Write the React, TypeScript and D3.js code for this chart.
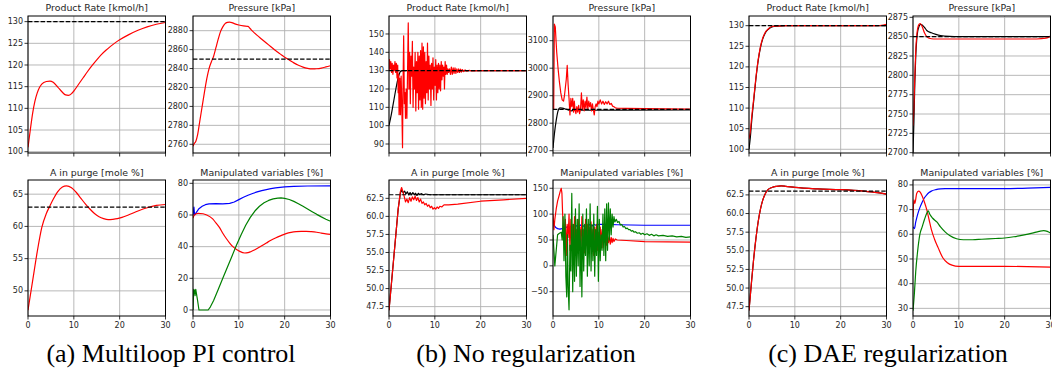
import React from "react";
import * as d3 from "d3";

type Pt = [number, number];

const timeTicks = [0, 10, 20, 30];
const captions = ["(a) Multiloop PI control", "(b) No regularization", "(c) DAE regularization"];
const titles = ["Product Rate [kmol/h]", "Pressure [kPa]", "A in purge [mole %]", "Manipulated variables [%]"];
const setpoints = [130, 2850, 63];

// ---- (a) multiloop PI control
const piRate: Pt[] = [[0,101],[0.5,105],[1,108.8],[1.5,111.6],[2,113.5],[2.5,114.8],[3,115.6],[4,116.2],[4.8,116.3],[5.5,116],[6.5,114.9],[7.5,113.7],[8.2,113.1],[8.8,113],[9.5,113.4],[10,114],[11,115.5],[12,117],[13,118.5],[14,119.9],[15,121.2],[16,122.4],[17,123.4],[18,124.3],[19,125.1],[20,125.8],[22,127],[24,128],[26,128.8],[28,129.4],[30,129.8]];
const piPressure: Pt[] = [[0,2758],[0.3,2761],[0.6,2763],[1,2770],[1.5,2785],[2,2800],[2.5,2815],[3,2829],[3.5,2840],[4,2847],[4.5,2853],[5,2862],[5.5,2871],[6,2879],[6.5,2884],[7,2887.5],[7.5,2888.7],[8,2889],[8.5,2888.5],[9,2887.5],[10,2886],[11,2885],[12,2884.5],[12.5,2882],[13,2879.5],[14,2875],[15,2871],[16,2867],[17,2863],[18,2859],[19,2855.5],[20,2852],[21,2849],[22,2846],[23,2843.5],[24,2841.5],[25,2840.2],[26,2839.6],[27,2839.8],[28,2840.5],[29,2841.7],[30,2843]];
const piPurge: Pt[] = [[0,47],[1,51.5],[2,56],[3,59.8],[4,62],[4.8,63.2],[5.5,64.2],[6.5,65.4],[7.5,66.1],[8.4,66.3],[9.5,66],[10.5,65.3],[11.5,64.4],[12.5,63.5],[13.5,62.7],[14.5,62],[15.5,61.5],[16.5,61.2],[17.5,61.05],[18.5,61.1],[19.5,61.2],[20.5,61.4],[22,61.8],[24,62.4],[26,62.9],[28,63.25],[30,63.4]];
const piMvBlue: Pt[] = [[0,60],[0.2,65],[0.35,60],[0.7,61.5],[1.3,64],[2,65.5],[2.7,66.5],[3.5,67],[5,67.2],[6.5,67],[8,67.3],[9,68.2],[10,69.7],[11,71.2],[12,72.5],[13,73.6],[14,74.6],[15,75.4],[16,76],[17,76.6],[18,77.1],[19,77.5],[20,77.8],[22,78.1],[25,78.3],[30,78.4]];
const piMvRed: Pt[] = [[0,58],[0.3,60],[1.1,61],[2.2,60.8],[3,60],[4.3,57.5],[5,55],[5.8,52],[6.5,48.5],[7.3,45],[8,42.3],[8.7,40],[9.5,38.2],[10.2,37],[11.3,36],[12,36.2],[12.6,36.8],[13.5,38],[14.8,40.2],[16,42.3],[17,44],[18,45.5],[19.2,47],[20.3,48.2],[21.4,49],[22.5,49.5],[23.6,49.7],[24.7,49.7],[25.8,49.5],[27,49.1],[28,48.6],[29,48.1],[30,47.8]];
const piMvGreen: Pt[] = [[0,0],[0.15,13],[0.3,12.5],[0.45,9],[0.6,13],[1,6],[1.3,0],[2,0],[3.3,0],[3.8,2],[4.5,6],[5.5,13],[6.5,20],[7.5,27],[8.5,34],[9.5,41],[10.5,47.5],[11.5,53.5],[12.5,58.5],[13.5,62.5],[14.5,65.5],[15.5,67.7],[16.5,69.2],[17.5,70.2],[18.5,70.7],[19.2,70.8],[20,70.5],[21,69.8],[22,68.6],[23,67.1],[24,65.5],[25,63.8],[26,62.1],[27,60.4],[28,58.8],[29,57.3],[30,56]];

// ---- (b) no regularization
const noRegRateRef: Pt[] = [[0,100],[0.5,106],[1,113],[1.5,120],[2,126],[2.5,129.5],[3,130],[30,130]];
const noRegRate: Pt[] = [[0,130],[0.1,136],[0.25,131],[0.4,135],[0.55,129],[0.7,134],[0.85,128],[1,133],[1.15,130],[1.3,135],[1.45,129],[1.6,134],[1.75,126],[1.9,133],[2,118],[2.1,128],[2.2,106],[2.35,126],[2.5,106],[2.65,127],[2.8,110],[2.95,88],[3.05,120],[3.2,149],[3.35,112],[3.5,118],[3.6,104],[3.75,120],[3.9,104],[4.05,130],[4.2,156],[4.35,120],[4.5,140],[4.65,112],[4.8,138],[4.95,127],[5.1,146],[5.25,110],[5.4,132],[5.55,120],[5.7,140],[5.85,108],[6,135],[6.15,118],[6.3,140],[6.45,109],[6.6,138],[6.75,114],[6.9,141],[7.05,110],[7.2,145],[7.35,109],[7.5,143],[7.65,115],[7.8,140],[7.95,112],[8.1,135],[8.25,118],[8.4,145],[8.55,114],[8.7,138],[8.85,120],[9,133],[9.15,111],[9.3,134],[9.45,120],[9.6,137],[9.75,114],[9.9,132],[10.05,122],[10.2,136],[10.35,114],[10.5,133],[10.65,118],[10.8,134],[10.95,120],[11.1,133],[11.25,119],[11.4,135],[11.55,125],[11.7,133],[11.85,127],[12,132],[12.1,120],[12.25,135],[12.4,128],[12.55,133],[12.7,128],[12.85,131],[13,129],[13.2,131],[13.4,128],[13.6,132],[13.8,128],[14,131.5],[14.2,128.5],[14.4,131.5],[14.6,128.5],[14.8,131],[15,129],[15.2,131],[15.4,129],[15.6,130.8],[15.8,129.2],[16,130.6],[16.3,129.5],[16.6,130.4],[17,129.7],[17.5,130.2],[18,129.9],[20,130],[30,130]];
const noRegPressureRef: Pt[] = [[0,2710],[0.3,2760],[0.7,2810],[1.1,2845],[1.5,2856],[2,2855],[3,2850],[4,2845],[5,2848],[6,2847],[30,2848]];
const noRegPressure: Pt[] = [[0,2850],[0.15,2850],[0.3,3160],[0.5,3150],[0.8,3060],[1.1,3000],[1.4,2950],[1.7,2910],[2,2885],[2.3,2880],[2.5,2900],[2.7,2930],[2.9,2960],[3.1,3010],[3.3,2940],[3.5,2890],[3.7,2830],[3.9,2890],[4.1,2860],[4.3,2890],[4.5,2840],[4.65,2880],[4.8,2850],[5,2835],[5.2,2860],[5.4,2840],[5.6,2865],[5.8,2835],[6,2850],[6.2,2910],[6.4,2850],[6.6,2885],[6.8,2845],[7,2880],[7.2,2855],[7.4,2895],[7.6,2850],[7.8,2880],[8,2860],[8.2,2875],[8.4,2845],[8.6,2870],[8.8,2850],[9,2830],[9.2,2860],[9.4,2870],[9.6,2860],[9.8,2880],[10,2870],[10.3,2885],[10.6,2870],[10.9,2880],[11.2,2868],[11.5,2878],[11.8,2870],[12.1,2880],[12.4,2868],[12.7,2872],[13,2862],[13.3,2860],[13.6,2856],[14,2855],[16,2854],[20,2853],[25,2852],[30,2851]];
const noRegPurgeRef: Pt[] = [[0,47],[0.5,50.5],[1,54],[1.5,57.5],[2,61],[2.5,63.3],[2.8,63.6],[3.1,63.3],[3.4,63.5],[3.7,63.1],[4,63.4],[4.3,63],[4.6,63.3],[4.9,63],[5.2,63.3],[5.5,63],[5.8,63.2],[6.1,62.9],[6.4,63.2],[6.7,63],[7,63.15],[7.5,63],[8,63.1],[9,63],[30,63]];
const noRegPurge: Pt[] = [[0,47],[0.5,50.5],[1,54],[1.5,57.5],[2,61],[2.5,63.5],[2.75,64],[3,63.5],[3.3,62.8],[3.6,62],[3.9,62.4],[4.2,61.9],[4.5,62.6],[4.8,62.1],[5.1,62.7],[5.4,62.3],[5.7,62.8],[6,62.2],[6.3,62.6],[6.6,62],[6.9,62.4],[7.2,61.8],[7.5,62],[7.8,61.6],[8.1,61.8],[8.4,61.4],[8.7,61.6],[9,61.2],[9.3,61.4],[9.6,61],[9.9,61.2],[10.2,61],[10.5,61.3],[10.8,61.1],[11.1,61.4],[11.5,61.3],[12,61.6],[13,61.6],[15,61.7],[20,62.1],[25,62.3],[30,62.5]];
const noRegMvBlue: Pt[] = [[0,83],[0.3,78],[0.6,74],[1,72],[1.5,71],[2,72],[2.5,73],[3,75],[3.5,73],[4,77],[4.5,74],[5,78],[5.5,75],[6,79],[6.5,76],[7,79],[7.5,76],[8,80],[8.5,77],[9,80],[9.5,78],[10,80],[12,80],[14,79.5],[20,78.5],[30,78.5]];
const noRegMvRed: Pt[] = [[0,100],[0.2,70],[0.4,90],[0.7,110],[1,125],[1.3,135],[1.6,145],[1.8,150],[1.95,140],[2.1,100],[2.3,70],[2.5,40],[2.7,90],[2.9,20],[3.1,80],[3.3,55],[3.5,100],[3.7,30],[3.9,90],[4.1,40],[4.3,80],[4.5,25],[4.7,95],[4.9,40],[5.1,70],[5.3,30],[5.5,90],[5.7,50],[5.9,75],[6.1,35],[6.3,95],[6.5,45],[6.7,70],[6.9,25],[7.1,90],[7.3,40],[7.5,80],[7.7,30],[7.9,75],[8.1,45],[8.3,85],[8.5,30],[8.7,70],[8.9,20],[9.1,75],[9.3,40],[9.5,80],[9.7,30],[9.9,65],[10.1,40],[10.3,75],[10.5,45],[10.7,70],[10.9,35],[11.1,65],[11.3,45],[11.5,60],[11.7,40],[11.9,58],[12.1,45],[12.3,56],[12.5,42],[12.7,55],[12.9,45],[13.1,53],[13.3,47],[13.6,52],[14,50],[16,49],[20,47],[25,46.5],[30,46]];
const noRegMvGreen: Pt[] = [[0,60],[0.2,30],[0.4,0],[0.7,30],[1,60],[1.4,63],[1.8,65],[2,50],[2.2,95],[2.4,10],[2.6,100],[2.8,-20],[3,-60],[3.15,60],[3.3,-40],[3.5,-85],[3.7,40],[3.9,-10],[4.1,140],[4.3,-50],[4.5,80],[4.7,-30],[4.9,110],[5.1,-20],[5.3,90],[5.5,0],[5.7,120],[5.9,-40],[6.1,70],[6.3,-60],[6.5,100],[6.7,-10],[6.9,80],[7.1,20],[7.3,110],[7.5,-20],[7.7,90],[7.9,0],[8.1,120],[8.3,-10],[8.5,80],[8.7,10],[8.9,100],[9.1,-20],[9.3,70],[9.5,20],[9.7,115],[9.9,-30],[10.1,90],[10.3,10],[10.5,60],[10.7,30],[10.9,100],[11.1,20],[11.3,110],[11.5,10],[11.7,120],[11.9,30],[12.1,122],[12.3,50],[12.5,110],[12.7,60],[12.9,100],[13.1,75],[13.3,95],[13.5,85],[13.8,90],[14.1,84],[14.4,86],[14.7,79],[15,80],[15.3,75],[15.6,76],[15.9,72],[16.2,73],[16.5,70],[16.8,70],[17.1,67],[17.4,68],[17.7,65],[18,66],[18.4,63],[18.8,64],[19.2,61],[19.6,63],[20,60],[20.5,62],[21,59],[21.5,61],[22,58],[22.5,60],[23,58],[24,59],[25,57],[26,58],[27,56],[28,57],[29,55],[30,56]];

// ---- (c) DAE regularization
const daeRateRef: Pt[] = [[0,100],[0.3,103],[0.6,107],[1,111.5],[1.5,117],[2,121.5],[2.5,124.7],[3,126.8],[3.5,128.1],[4,128.9],[4.5,129.4],[5,129.7],[6,129.9],[8,130],[30,130]];
const daeRate: Pt[] = [[0,102.5],[0.3,104.5],[0.6,108],[1,112],[1.5,117.3],[2,121.7],[2.5,124.9],[3,127],[3.5,128.3],[4,129],[4.5,129.5],[5,129.8],[6,129.9],[8,130],[28,130],[29.5,130.2],[30,130.3]];
const daePressureRef: Pt[] = [[0,2700],[0.2,2740],[0.4,2790],[0.6,2825],[0.8,2845],[1,2856],[1.3,2863],[1.6,2866],[2,2865],[2.5,2862],[3,2858],[4,2855],[5,2853],[6,2851.5],[8,2850.3],[10,2850],[30,2850]];
const daePressure: Pt[] = [[0,2735],[0.2,2760],[0.4,2800],[0.6,2832],[0.8,2850],[1,2860],[1.3,2866],[1.6,2867],[2,2863],[2.5,2855],[3,2850],[3.5,2848],[4.5,2847],[6,2847],[20,2847],[27,2847],[29,2848],[30,2851]];
const daePurgeRef: Pt[] = [[0,47],[0.5,50.5],[1,53.8],[1.5,56.6],[2,58.9],[2.5,60.6],[3,61.8],[3.5,62.6],[4,63.1],[5,63.5],[6,63.65],[7,63.7],[8,63.65],[10,63.5],[15,63.3],[20,63.2],[25,63],[28,62.8],[30,62.6]];
const daePurge: Pt[] = [[0,47],[0.5,50.5],[1,53.8],[1.5,56.6],[2,58.9],[2.5,60.6],[3,61.8],[3.5,62.6],[4,63.1],[5,63.5],[6,63.65],[7,63.7],[8,63.65],[10,63.5],[15,63.3],[20,63.2],[25,63],[28,62.8],[30,62.6]];
const daeMvBlue: Pt[] = [[0,63],[0.3,62.3],[0.6,65],[1,68],[1.5,70.8],[2,73],[2.5,74.8],[3,76],[3.5,76.9],[4,77.5],[5,78.1],[6,78.4],[7,78.5],[10,78.5],[20,78.5],[25,78.7],[30,79]];
const daeMvRed: Pt[] = [[0,67],[0.2,74],[0.4,72.5],[0.8,76.5],[1.2,77.5],[1.6,77],[2,75.5],[2.5,73],[3,70],[3.5,66],[4,62],[4.7,58],[5.5,54.5],[6.5,50.5],[7.5,48.5],[8.5,47.5],[10,47],[15,47],[20,47],[25,46.9],[30,46.7]];
const daeMvGreen: Pt[] = [[0,29],[0.3,36],[0.6,45],[1,53],[1.5,60],[2,63],[2.5,66],[3,68.5],[3.3,69.5],[3.7,68],[4.3,66.5],[5.2,65],[6,63],[7,61],[8,59.5],[9.5,58.2],[11,57.8],[13,57.8],[15,58],[18,58.3],[20,58.5],[22,59],[24,59.7],[26,60.5],[27.5,61.2],[28.5,61.5],[29.3,61.2],[30,60.5]];

// ---- y axes
const rateTicksA = [100, 105, 110, 115, 120, 125, 130];
const pressureTicksA = [2760, 2780, 2800, 2820, 2840, 2860, 2880];
const purgeTicksA = [50, 55, 60, 65];
const mvTicksA = [0, 20, 40, 60, 80];
const rateTicksB = [90, 100, 110, 120, 130, 140, 150];
const pressureTicksB = [2700, 2800, 2900, 3000, 3100];
const purgeTicksB = [47.5, 50, 52.5, 55, 57.5, 60, 62.5];
const mvTicksB = [-50, 0, 50, 100, 150];
const rateTicksC = [100, 105, 110, 115, 120, 125, 130];
const pressureTicksC = [2700, 2725, 2750, 2775, 2800, 2825, 2850, 2875];
const purgeTicksC = [47.5, 50, 52.5, 55, 57.5, 60, 62.5];
const mvTicksC = [30, 40, 50, 60, 70, 80];

const RED = "#ff0000", BLACK = "#000000", BLUE = "#0000ff", GREEN = "#008000";

type Series = { data: Pt[]; color: string; smooth: boolean };
type Panel = { col: number; row: number; title: string; ticks: number[]; domain: [number, number]; decimals: number; setpoint?: number; series: Series[] };

const colLeft = [28, 193, 389, 553, 749, 913];
const rowTop = [16, 180];
const rowBottom = [153, 316];
const panelW = 137.5;

const panels: Panel[] = [
  { col: 0, row: 0, title: titles[0], ticks: rateTicksA, domain: [99.7, 131.3], decimals: 0, setpoint: setpoints[0], series: [{ data: piRate, color: RED, smooth: true }] },
  { col: 1, row: 0, title: titles[1], ticks: pressureTicksA, domain: [2750.8, 2895.5], decimals: 0, setpoint: setpoints[1], series: [{ data: piPressure, color: RED, smooth: true }] },
  { col: 0, row: 1, title: titles[2], ticks: purgeTicksA, domain: [46.1, 67.2], decimals: 0, setpoint: setpoints[2], series: [{ data: piPurge, color: RED, smooth: true }] },
  { col: 1, row: 1, title: titles[3], ticks: mvTicksA, domain: [-3.8, 82.1], decimals: 0, series: [{ data: piMvBlue, color: BLUE, smooth: false }, { data: piMvRed, color: RED, smooth: true }, { data: piMvGreen, color: GREEN, smooth: false }] },
  { col: 2, row: 0, title: titles[0], ticks: rateTicksB, domain: [85.1, 159.8], decimals: 0, setpoint: setpoints[0], series: [{ data: noRegRateRef, color: BLACK, smooth: true }, { data: noRegRate, color: RED, smooth: false }] },
  { col: 3, row: 0, title: titles[1], ticks: pressureTicksB, domain: [2691.6, 3189.8], decimals: 0, setpoint: setpoints[1], series: [{ data: noRegPressureRef, color: BLACK, smooth: true }, { data: noRegPressure, color: RED, smooth: false }] },
  { col: 2, row: 1, title: titles[2], ticks: purgeTicksB, domain: [46.2, 65.04], decimals: 1, setpoint: setpoints[2], series: [{ data: noRegPurgeRef, color: BLACK, smooth: false }, { data: noRegPurge, color: RED, smooth: false }] },
  { col: 3, row: 1, title: titles[3], ticks: mvTicksB, domain: [-97, 166], decimals: 0, series: [{ data: noRegMvBlue, color: BLUE, smooth: false }, { data: noRegMvRed, color: RED, smooth: false }, { data: noRegMvGreen, color: GREEN, smooth: false }] },
  { col: 4, row: 0, title: titles[0], ticks: rateTicksC, domain: [99.1, 132.35], decimals: 0, setpoint: setpoints[0], series: [{ data: daeRateRef, color: BLACK, smooth: true }, { data: daeRate, color: RED, smooth: true }] },
  { col: 5, row: 0, title: titles[1], ticks: pressureTicksC, domain: [2699.6, 2876.7], decimals: 0, setpoint: setpoints[1], series: [{ data: daePressureRef, color: BLACK, smooth: true }, { data: daePressure, color: RED, smooth: true }] },
  { col: 4, row: 1, title: titles[2], ticks: purgeTicksC, domain: [46.25, 64.5], decimals: 1, setpoint: setpoints[2], series: [{ data: daePurgeRef, color: BLACK, smooth: true }, { data: daePurge, color: RED, smooth: true }] },
  { col: 5, row: 1, title: titles[3], ticks: mvTicksC, domain: [26.9, 82.0], decimals: 0, series: [{ data: daeMvBlue, color: BLUE, smooth: true }, { data: daeMvRed, color: RED, smooth: true }, { data: daeMvGreen, color: GREEN, smooth: true }] },
];

const captionX = [171, 526, 888];
const SANS = "DejaVu Sans";
const SERIF = "Liberation Serif, Tinos, Times New Roman, DejaVu Serif, Noto Serif, serif";
const TEXT = "#262626";

function PanelView({ p, i }: { p: Panel; i: number }) {
  const x0 = colLeft[p.col];
  const x1 = x0 + panelW;
  const y0 = rowTop[p.row];
  const y1 = rowBottom[p.row];
  const x = d3.scaleLinear().domain([0, 30]).range([x0, x1]);
  const y = d3.scaleLinear().domain(p.domain).range([y1, y0]);
  const clipId = `clip-${i}`;
  const fmt = (v: number) => (p.decimals ? v.toFixed(p.decimals) : d3.format("d")(v));
  const lineGen = (s: Series) =>
    d3.line<Pt>().x((d) => x(d[0])).y((d) => y(d[1])).curve(s.smooth ? d3.curveMonotoneX : d3.curveLinear)(s.data) || "";
  return (
    <g>
      <clipPath id={clipId}>
        <rect x={x0} y={y0} width={x1 - x0} height={y1 - y0} />
      </clipPath>
      <rect x={x0} y={y0} width={x1 - x0} height={y1 - y0} fill="#fff" />
      {timeTicks.map((t) => (
        <line key={`gx${t}`} x1={x(t)} x2={x(t)} y1={y0} y2={y1} stroke="#b0b0b0" strokeWidth={0.9} />
      ))}
      {p.ticks.map((t) => (
        <line key={`gy${t}`} x1={x0} x2={x1} y1={y(t)} y2={y(t)} stroke="#b0b0b0" strokeWidth={0.9} />
      ))}
      <g clipPath={`url(#${clipId})`}>
        {p.series.map((s, k) => (
          <path key={k} d={lineGen(s)} fill="none" stroke={s.color} strokeWidth={1.2} strokeLinejoin="round" />
        ))}
        {p.setpoint !== undefined && (
          <line x1={x0} x2={x1} y1={y(p.setpoint)} y2={y(p.setpoint)} stroke="#000" strokeWidth={1.2} strokeDasharray="4.4,1.9" />
        )}
      </g>
      <rect x={x0} y={y0} width={x1 - x0} height={y1 - y0} fill="none" stroke="#000" strokeWidth={1} />
      {p.ticks.map((t) => (
        <g key={`ty${t}`}>
          <line x1={x0 - 3.5} x2={x0} y1={y(t)} y2={y(t)} stroke="#000" strokeWidth={0.8} />
          <text x={x0 - 5} y={y(t)} dy="0.32em" textAnchor="end" fontFamily={SANS} fontSize={8} fill={TEXT}>
            {fmt(t)}
          </text>
        </g>
      ))}
      {timeTicks.map((t) => (
        <g key={`tx${t}`}>
          <line x1={x(t)} x2={x(t)} y1={y1} y2={y1 + 3.5} stroke="#000" strokeWidth={0.8} />
          {p.row === 1 && (
            <text x={x(t)} y={y1 + 12} textAnchor="middle" fontFamily={SANS} fontSize={8} fill={TEXT}>
              {t}
            </text>
          )}
        </g>
      ))}
      <text x={(x0 + x1) / 2} y={p.row === 0 ? 11 : 176} textAnchor="middle" fontFamily={SANS} fontSize={9.4} fill={TEXT}>
        {p.title}
      </text>
    </g>
  );
}

export default function App() {
  return (
    <svg width={1052} height={371} style={{ position: "absolute", left: 0, top: 0, background: "#fff" }}>
      <rect width={1052} height={371} fill="#fff" />
      {panels.map((p, i) => (
        <PanelView key={i} p={p} i={i} />
      ))}
      {captions.map((c, i) => (
        <text key={c} x={captionX[i]} y={362} textAnchor="middle" style={{ fontFamily: SERIF, fontSize: 26 }} fill="#000">
          {c}
        </text>
      ))}
    </svg>
  );
}
